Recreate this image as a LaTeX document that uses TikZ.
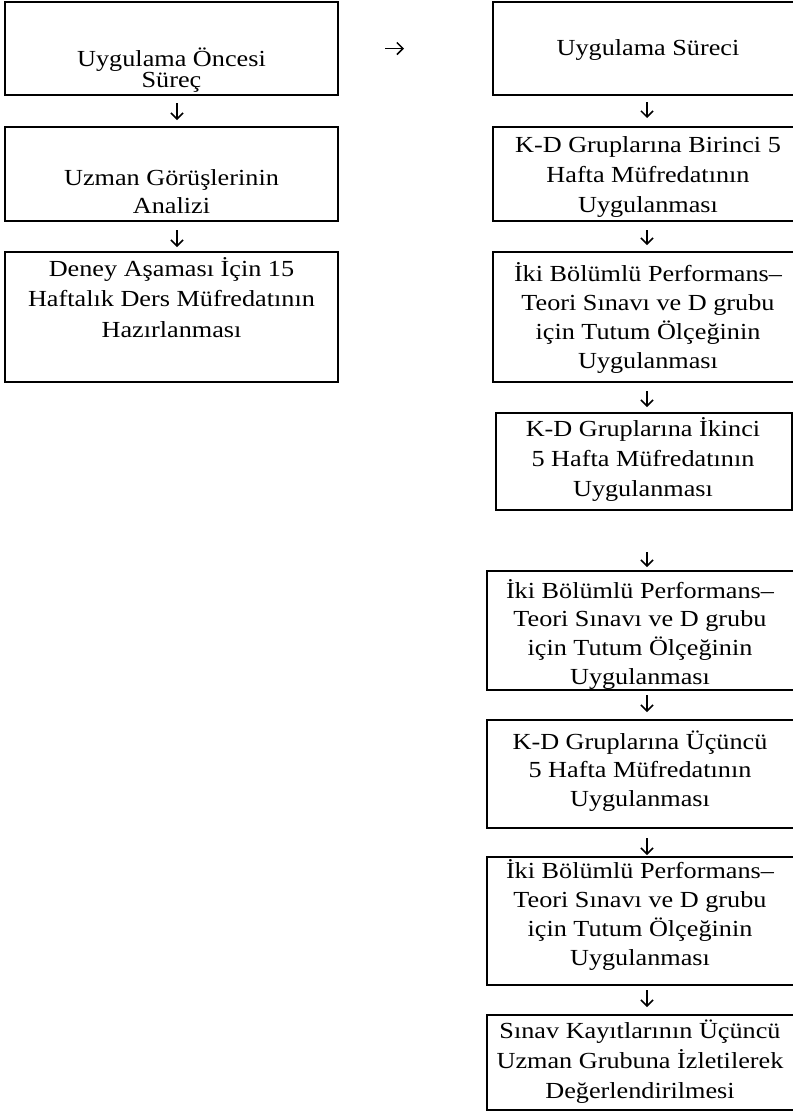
\documentclass[tikz,border=0pt]{standalone}
\usepackage{fontspec}
\setmainfont{Liberation Serif}[FakeStretch=1.14]
\usetikzlibrary{arrows.meta}
\newcommand{\fl}{\rule{0pt}{22pt}}
\tikzset{
  box/.style={draw, line width=2.5pt, inner sep=0pt, outer sep=0pt},
  txt/.style={anchor=north, inner sep=0pt, align=center},
  arr/.style={line width=1.5pt, -{Straight Barb[length=6pt,width=12pt,line width=1.5pt]}},
}
\begin{document}
\begin{tikzpicture}[x=1pt,y=-1pt]
\useasboundingbox (0,0) rectangle (793,1112);
% boxes
\node[box, minimum width=333pt, minimum height=93pt] (L1) at (171.5,48.5) {};
\node[box, minimum width=333pt, minimum height=94pt] (L2) at (171.5,174) {};
\node[box, minimum width=333pt, minimum height=130pt] (L3) at (171.5,317) {};
\node[box, minimum width=310pt, minimum height=93pt] (R1) at (648,48.5) {};
\node[box, minimum width=310pt, minimum height=94pt] (R2) at (648,174) {};
\node[box, minimum width=310pt, minimum height=130pt] (R3) at (648,317) {};
\node[box, minimum width=296pt, minimum height=97pt] (R4) at (644,461.5) {};
\node[box, minimum width=309pt, minimum height=119pt] (R5) at (641.5,630.5) {};
\node[box, minimum width=309pt, minimum height=108pt] (R6) at (641.5,774) {};
\node[box, minimum width=309pt, minimum height=128pt] (R7) at (641.5,921) {};
\node[box, minimum width=309pt, minimum height=95pt] (R8) at (641.5,1062.5) {};
% texts
\node[txt, font=\fontsize{23pt}{21pt}\selectfont] (L1t) at (171.5,44) {\fl Uygulama Öncesi\\Süreç};
\node[txt, font=\fontsize{23pt}{28pt}\selectfont] (L2t) at (171.5,163) {\fl Uzman Görüşlerinin\\Analizi};
\node[txt, font=\fontsize{23pt}{30.5pt}\selectfont] (L3t) at (171.5,254) {\fl Deney Aşaması İçin 15\\Haftalık Ders Müfredatının\\Hazırlanması};
\node[txt, font=\fontsize{23pt}{30pt}\selectfont] (R1t) at (648,33) {\fl Uygulama Süreci};
\node[txt, font=\fontsize{23pt}{30pt}\selectfont] (R2t) at (648,130) {\fl K-D Gruplarına Birinci 5\\Hafta Müfredatının\\Uygulanması};
\node[txt, font=\fontsize{23pt}{29pt}\selectfont] (R3t) at (648,259) {\fl İki Bölümlü Performans–\\Teori Sınavı ve D grubu\\için Tutum Ölçeğinin\\Uygulanması};
\node[txt, font=\fontsize{23pt}{30pt}\selectfont] (R4t) at (643,414) {\fl K-D Gruplarına İkinci\\5 Hafta Müfredatının\\Uygulanması};
\node[txt, font=\fontsize{23pt}{28.7pt}\selectfont] (R5t) at (640,576) {\fl İki Bölümlü Performans–\\Teori Sınavı ve D grubu\\için Tutum Ölçeğinin\\Uygulanması};
\node[txt, font=\fontsize{23pt}{28.5pt}\selectfont] (R6t) at (640,727) {\fl K-D Gruplarına Üçüncü\\5 Hafta Müfredatının\\Uygulanması};
\node[txt, font=\fontsize{23pt}{29pt}\selectfont] (R7t) at (640,856) {\fl İki Bölümlü Performans–\\Teori Sınavı ve D grubu\\için Tutum Ölçeğinin\\Uygulanması};
\node[txt, font=\fontsize{23pt}{30pt}\selectfont] (R8t) at (640,1016) {\fl Sınav Kayıtlarının Üçüncü\\Uzman Grubuna İzletilerek\\Değerlendirilmesi};
% arrow lines
\coordinate (lax) at (177,0);
\coordinate (rax) at (647,0);
\draw[arr, shorten <=47pt, shorten >=89pt] (L1.east) -- (R1.west);
\draw[arr, shorten <=8pt, shorten >=7pt] (L1.south -| lax) -- (L2.north -| lax);
\draw[arr, shorten <=9pt, shorten >=5pt] (L2.south -| lax) -- (L3.north -| lax);
\draw[arr, shorten <=7pt, shorten >=9pt] (R1.south -| rax) -- (R2.north -| rax);
\draw[arr, shorten <=9pt, shorten >=7pt] (R2.south -| rax) -- (R3.north -| rax);
\draw[arr, shorten <=9pt, shorten >=6pt] (R3.south -| rax) -- (R4.north -| rax);
\draw[arr, shorten <=42pt, shorten >=4pt] (R4.south -| rax) -- (R5.north -| rax);
\draw[arr, shorten <=5pt, shorten >=8pt] (R5.south -| rax) -- (R6.north -| rax);
\draw[arr, shorten <=10pt, shorten >=2pt] (R6.south -| rax) -- (R7.north -| rax);
\draw[arr, shorten <=5pt, shorten >=8pt] (R7.south -| rax) -- (R8.north -| rax);
\end{tikzpicture}
\end{document}
